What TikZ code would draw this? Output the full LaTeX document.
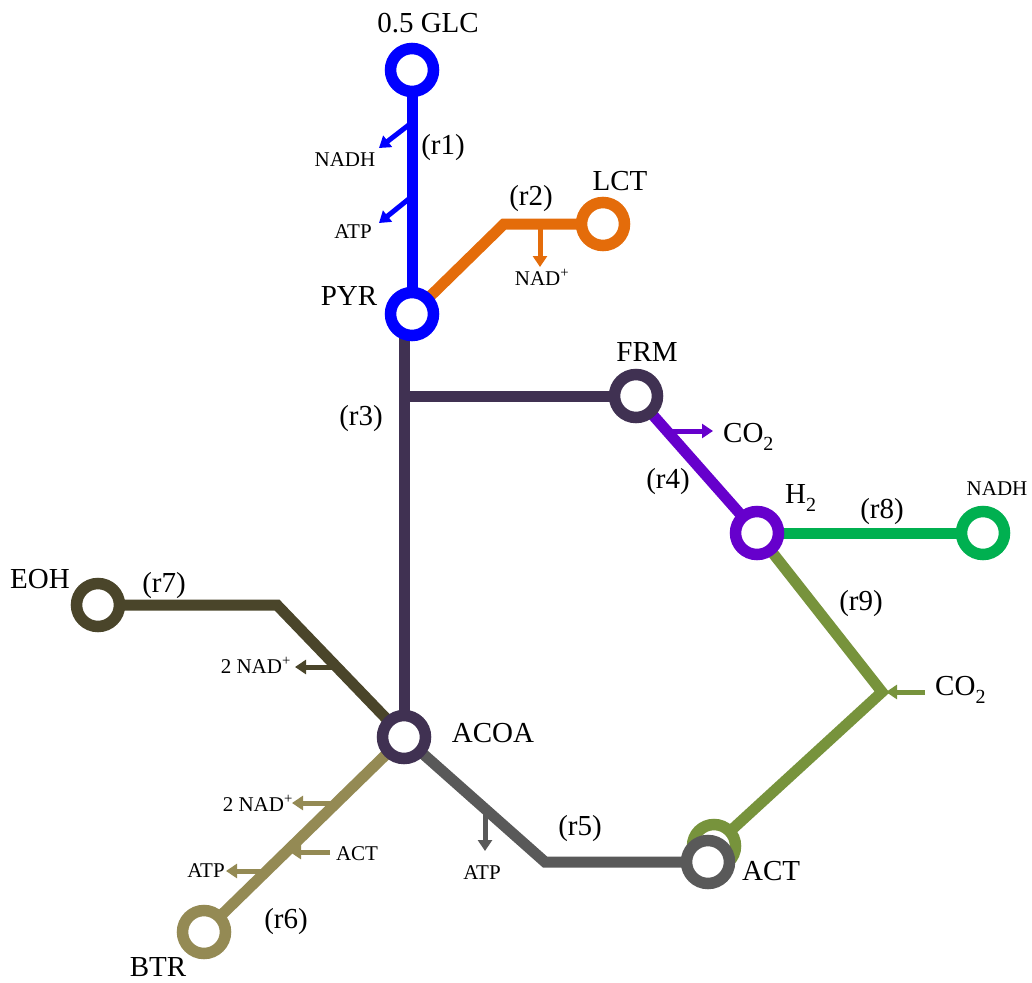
\documentclass[tikz,border=0pt]{standalone}
\usepackage{fontspec}
\setmainfont{Liberation Serif}
\usetikzlibrary{arrows.meta}
\pgfdeclarelayer{background}
\pgfsetlayers{background,main}
\definecolor{cglc}{HTML}{0000FF}
\definecolor{clct}{HTML}{E46C0A}
\definecolor{cpyr}{HTML}{403152}
\definecolor{cfrm}{HTML}{6600CC}
\definecolor{cnadh}{HTML}{00B050}
\definecolor{cact}{HTML}{77933C}
\definecolor{ceoh}{HTML}{4A452A}
\definecolor{cbtr}{HTML}{948A54}
\definecolor{cgray}{HTML}{595959}
% lowered subscript digit for molecule names
\newcommand{\molsub}[1]{\raisebox{-0.3em}{\fontsize{20}{20}\selectfont #1}}
\tikzset{
  met/.style={circle, draw, line width=11.5pt, fill=white, minimum size=43pt, inner sep=0pt},
  flux/.style={line width=11pt, line join=miter},
  side/.style={line width=5pt, -{Triangle[width=14pt,length=11pt]}},
  big/.style={font=\fontsize{29}{32}\selectfont, inner sep=0pt, anchor=base},
  small/.style={font=\fontsize{21}{24}\selectfont, inner sep=0pt, anchor=base},
}
\begin{document}
\begin{tikzpicture}[x=1pt,y=-1pt]
\useasboundingbox (0,0) rectangle (1032,982);

% metabolite rings
\node[met, draw=cglc]  (GLC)  at (412,70)  {};
\node[met, draw=cglc]  (PYR)  at (412,314) {};
\node[met, draw=clct]  (LCT)  at (603,224) {};
\node[met, draw=cpyr]  (FRM)  at (636,396) {};
\node[met, draw=cfrm]  (H2)   at (757,533) {};
\node[met, draw=cnadh] (NADH) at (983,533) {};
\node[met, draw=cpyr]  (ACOA) at (404,737) {};
\node[met, draw=ceoh]  (EOH)  at (98,605)  {};
\node[met, draw=cbtr]  (BTR)  at (204,932) {};
\node[met, draw=cact]  (ACTg) at (714,846) {};
\node[met, draw=cgray] (ACT)  at (708,862) {};

% bends and branch points
\coordinate (r2bend) at (504,224);
\coordinate (r3top)  at (404,314);
\coordinate (r3br)   at (404,396);
\coordinate (r9bend) at (882,692);
\coordinate (r7bend) at (277,605);
\coordinate (r5bend) at (545,862);

% side arrow anchors
\coordinate (a1s) at (410,124);  \coordinate (a1e) at (379,148);
\coordinate (a2s) at (410,198);  \coordinate (a2e) at (379,223);
\coordinate (a3s) at (540,224);  \coordinate (a3e) at (540,267);
\coordinate (a4s) at (666,431);  \coordinate (a4e) at (713,431);
\coordinate (a5s) at (925,692);  \coordinate (a5e) at (886,692);
\coordinate (a6s) at (485,808);  \coordinate (a6e) at (485,851);
\coordinate (a7s) at (336,667);  \coordinate (a7e) at (295,667);
\coordinate (a8s) at (335,803);  \coordinate (a8e) at (292,803);
\coordinate (a9s) at (330,852);  \coordinate (a9e) at (290,852);
\coordinate (a10s) at (266,871); \coordinate (a10e) at (226,871);

\begin{pgfonlayer}{background}
  % r1
  \draw[flux, cglc] (GLC.center) -- (PYR.center);
  \draw[side, cglc] (a1s) -- (a1e);
  \draw[side, cglc] (a2s) -- (a2e);
  % r2
  \draw[flux, clct] (PYR.center) -- (r2bend) -- (LCT.center);
  \draw[side, clct] (a3s) -- (a3e);
  % r3
  \draw[flux, cpyr] (r3top) -- (ACOA.center);
  \draw[flux, cpyr] (r3br) -- (FRM.center);
  % r4
  \draw[flux, cfrm] (FRM.center) -- (H2.center);
  \draw[side, cfrm] (a4s) -- (a4e);
  % r8
  \draw[flux, cnadh] (H2.center) -- (NADH.center);
  % r9
  \draw[flux, cact] (H2.center) -- (r9bend) -- (ACTg.center);
  \draw[side, cact] (a5s) -- (a5e);
  % r5
  \draw[flux, cgray] (ACOA.center) -- (r5bend) -- (ACT.center);
  \draw[side, cgray] (a6s) -- (a6e);
  % r7
  \draw[flux, ceoh] (EOH.center) -- (r7bend) -- (ACOA.center);
  \draw[side, ceoh] (a7s) -- (a7e);
  % r6
  \draw[flux, cbtr] (ACOA.center) -- (BTR.center);
  \draw[side, cbtr] (a8s) -- (a8e);
  \draw[side, cbtr] (a9s) -- (a9e);
  \draw[side, cbtr] (a10s) -- (a10e);
\end{pgfonlayer}

% metabolite names
\node[big] (tGLC)  at (428,33)  {0.5 GLC};
\node[big] (tPYR)  at (349,305) {PYR};
\node[big] (tLCT)  at (620,190) {LCT};
\node[big] (tFRM)  at (647,361) {FRM};
\node[big, anchor=base west] (tH2) at (785,503) {H\molsub{2}};
\node[small] (tNADH) at (997,495) {NADH};
\node[big] (tACOA) at (493,742) {ACOA};
\node[big, anchor=base west] (tACT) at (742,880) {ACT};
\node[big] (tEOH)  at (40,588)  {EOH};
\node[big] (tBTR)  at (158,976) {BTR};

% reaction labels
\node[big] (tr1) at (443,154) {(r1)};
\node[big] (tr2) at (531,205) {(r2)};
\node[big] (tr3) at (361,425) {(r3)};
\node[big] (tr4) at (668,488) {(r4)};
\node[big] (tr5) at (580,835) {(r5)};
\node[big] (tr6) at (286,928) {(r6)};
\node[big] (tr7) at (164,592) {(r7)};
\node[big] (tr8) at (882,518) {(r8)};
\node[big] (tr9) at (861,610) {(r9)};

% cofactor labels
\node[small] (c1) at (345,166) {NADH};
\node[small] (c2) at (353,238) {ATP};
\node[small] (c3) at (542,285) {NAD\textsuperscript{+}};
\node[big, anchor=base west] (c4) at (723,442) {CO\molsub{2}};
\node[big, anchor=base west] (c5) at (935,695) {CO\molsub{2}};
\node[small] (c6) at (482,879) {ATP};
\node[small, anchor=base east] (c7) at (291,673) {2 NAD\textsuperscript{+}};
\node[small, anchor=base east] (c8) at (293,811) {2 NAD\textsuperscript{+}};
\node[small] (c9) at (357,860) {ACT};
\node[small] (c10) at (206,877) {ATP};
\end{tikzpicture}
\end{document}
